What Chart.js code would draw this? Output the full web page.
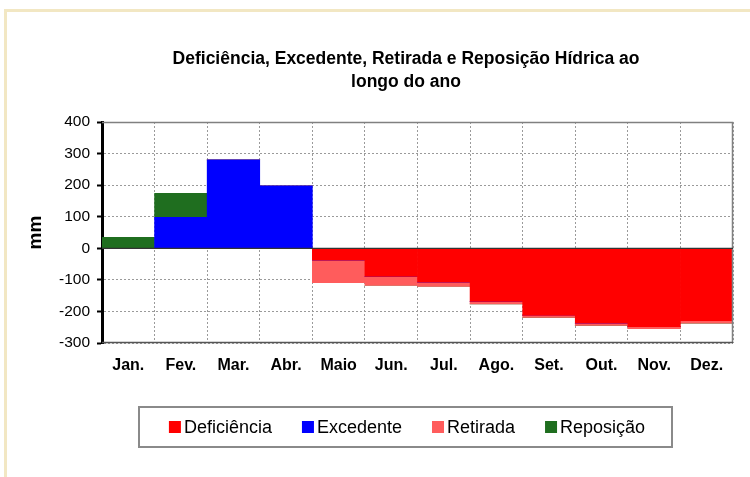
<!DOCTYPE html>
<html lang="pt-br">
<head>
    <meta charset="UTF-8">
    <title>Deficiência, Excedente, Retirada e Reposição Hídrica</title>
    <script src="https://cdn.jsdelivr.net/npm/chart.js"></script>
    <style>
        html, body { margin: 0; padding: 0; background: #fff; }
        body { width: 750px; height: 477px; overflow: hidden; position: relative; }
        .moldura {
            position: absolute; left: 4px; top: 9px; width: 800px; height: 600px;
            border: 3px solid #f2e7c3;
        }
        #grafico { position: absolute; left: 0; top: 0; }
    </style>
</head>
<body>
    <div class="moldura"></div>
    <canvas id="grafico" width="750" height="477"></canvas>
    <script>
        // dados (mm)
        const meses = ['Jan.', 'Fev.', 'Mar.', 'Abr.', 'Maio', 'Jun.', 'Jul.', 'Ago.', 'Set.', 'Out.', 'Nov.', 'Dez.'];
        const deficiencia = [0, 0, 0, 0, -38, -89, -107, -168, -213, -237, -248, -229];
        const excedente = [0, 98, 280, 198, 0, 0, 0, 0, 0, 0, 0, 0];
        const retirada = [0, 0, 0, 0, -71, -29, -14, -8, -6, -7, -7, -8];
        const reposicao = [35, 76, 0, 0, 0, 0, 0, 0, 0, 0, 0, 0];
        const titulo = ['Deficiência, Excedente, Retirada e Reposição Hídrica ao', 'longo do ano'];

        const fonte = '"Liberation Sans", Arial, sans-serif';

        // titulo desenhado a mao (centralizado como no original)
        const tituloPlugin = {
            id: 'tituloPlugin',
            afterDraw(chart) {
                const ctx = chart.ctx;
                ctx.save();
                ctx.fillStyle = '#000';
                ctx.font = 'bold 17.5px ' + fonte;
                ctx.textAlign = 'center';
                ctx.textBaseline = 'middle';
                titulo.forEach((linha, i) => ctx.fillText(linha, 406, 59 + i * 23));
                ctx.restore();
            }
        };

        // moldura da area do grafico e linha do zero
        const molduraPlugin = {
            id: 'molduraPlugin',
            afterDatasetsDraw(chart) {
                const ctx = chart.ctx;
                const a = chart.chartArea;
                const y0 = chart.scales.y.getPixelForValue(0);
                ctx.save();
                ctx.strokeStyle = '#808080';
                ctx.lineWidth = 1.5;
                ctx.beginPath();
                ctx.moveTo(a.left, a.top + 0.5);
                ctx.lineTo(a.right - 0.5, a.top + 0.5);
                ctx.lineTo(a.right - 0.5, a.bottom - 0.5);
                ctx.stroke();
                ctx.strokeStyle = '#555';
                ctx.beginPath();
                ctx.moveTo(a.left, a.bottom - 0.5);
                ctx.lineTo(a.right, a.bottom - 0.5);
                ctx.stroke();
                ctx.strokeStyle = '#333';
                ctx.lineWidth = 1.2;
                ctx.beginPath();
                ctx.moveTo(a.left, y0);
                ctx.lineTo(a.right, y0);
                ctx.stroke();
                ctx.restore();
            }
        };

        // legenda com caixa, como no original
        const legendaPlugin = {
            id: 'legendaPlugin',
            afterDraw(chart) {
                const ctx = chart.ctx;
                const ds = chart.data.datasets;
                ctx.save();
                ctx.strokeStyle = '#8a8a8a';
                ctx.lineWidth = 2;
                ctx.strokeRect(139, 407, 533, 40);
                ctx.font = '18px ' + fonte;
                ctx.textBaseline = 'middle';
                const box = 12, gapTxt = 3, gap = 30;
                const larguras = ds.map(d => box + gapTxt + ctx.measureText(d.label).width);
                const total = larguras.reduce((s, w) => s + w, 0) + gap * (ds.length - 1);
                let x = 407 - total / 2;
                const yc = 427;
                ds.forEach((d, i) => {
                    ctx.fillStyle = d.backgroundColor;
                    ctx.fillRect(x, yc - box / 2, box, box);
                    ctx.fillStyle = '#000';
                    ctx.fillText(d.label, x + box + gapTxt, yc + 1);
                    x += larguras[i] + gap;
                });
                ctx.restore();
            }
        };

        const ctx = document.getElementById('grafico').getContext('2d');

        const chart = new Chart(ctx, {
            type: 'bar',
            data: {
                labels: meses,
                datasets: [
                    { label: 'Deficiência', data: deficiencia, backgroundColor: '#ff0000' },
                    { label: 'Excedente', data: excedente, backgroundColor: '#0000ff' },
                    { label: 'Retirada', data: retirada, backgroundColor: '#ff5c5c' },
                    { label: 'Reposição', data: reposicao, backgroundColor: '#1f6e1f' }
                ]
            },
            options: {
                responsive: false,
                animation: false,
                layout: {
                    padding: { top: 122, left: 20, right: 17, bottom: 104 }
                },
                datasets: {
                    bar: { barPercentage: 1, categoryPercentage: 1, borderWidth: 0 }
                },
                plugins: {
                    legend: { display: false },
                    tooltip: { enabled: false },
                    title: { display: false }
                },
                scales: {
                    x: {
                        stacked: true,
                        grid: { color: '#9a9a9a', drawTicks: false },
                        border: { display: false, dash: [2, 2] },
                        ticks: {
                            color: '#000',
                            padding: 13,
                            font: { family: fonte, size: 16, weight: 'bold' }
                        },
                        afterFit(scale) { scale.height = 30; }
                    },
                    y: {
                        stacked: true,
                        min: -300,
                        max: 400,
                        ticks: {
                            stepSize: 100,
                            color: '#000',
                            padding: 7,
                            font: { family: fonte, size: 15.5 }
                        },
                        grid: { color: '#9a9a9a', tickColor: '#000', tickLength: 5, tickWidth: 2 },
                        border: { color: '#000', width: 3, dash: [2, 2] },
                        title: {
                            display: true,
                            text: 'mm',
                            color: '#000',
                            padding: { top: 4, bottom: 0 },
                            font: { family: fonte, size: 19, weight: 'bold' }
                        },
                        afterFit(scale) { scale.width = 82; }
                    }
                }
            },
            plugins: [tituloPlugin, molduraPlugin, legendaPlugin]
        });
    </script>
</body>
</html>
